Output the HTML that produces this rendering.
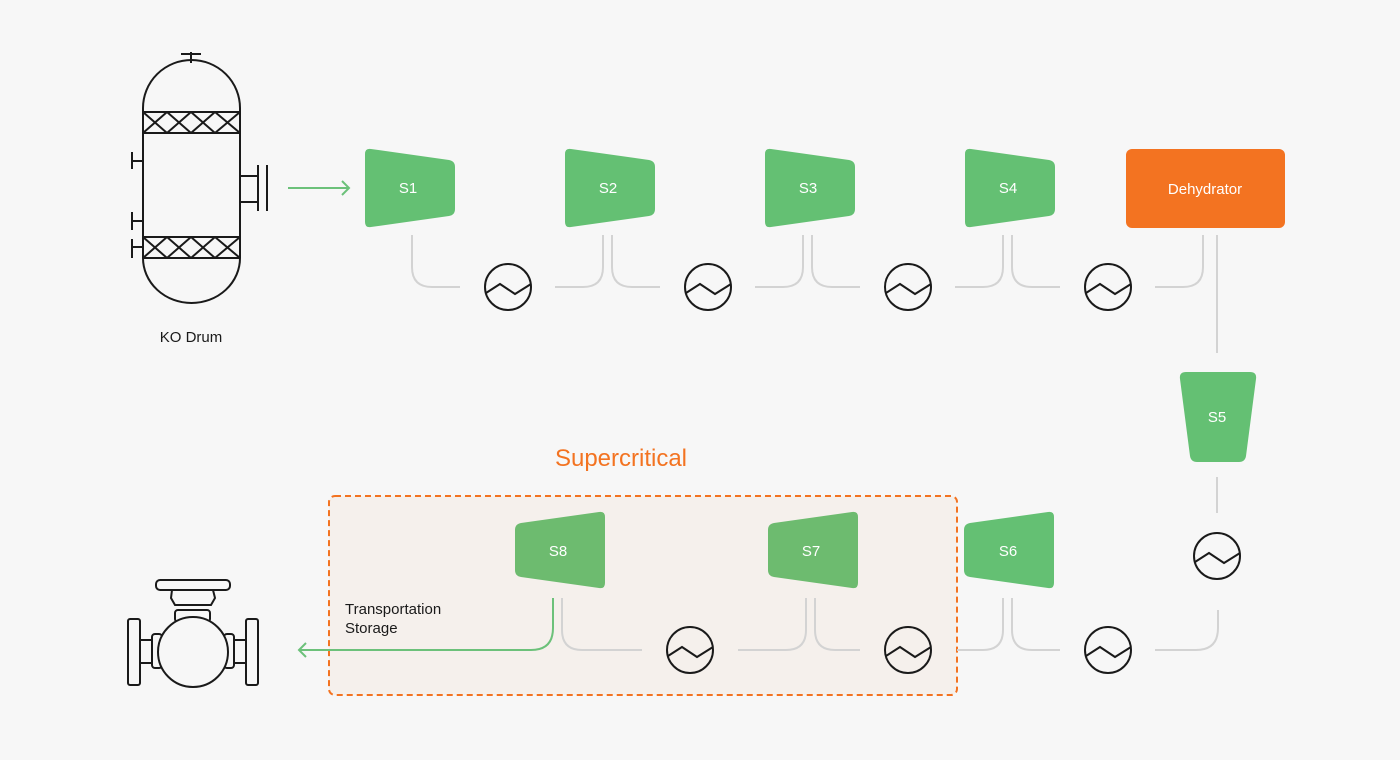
<!DOCTYPE html>
<html><head><meta charset="utf-8"><style>
html,body{margin:0;padding:0;background:#f7f7f7;}
svg{display:block;font-family:"Liberation Sans",sans-serif;}
</style></head><body>
<svg width="1400" height="760" viewBox="0 0 1400 760" xmlns="http://www.w3.org/2000/svg">
<defs>
<g id="hx"><circle cx="0" cy="0" r="23" fill="none" stroke="#1a1a1a" stroke-width="2"/><polyline points="-22,6 -8,-3 7,7 23,-3" fill="none" stroke="#1a1a1a" stroke-width="2"/></g>
<path id="compR" d="M371,149 L449,160 Q455,161 455,167 L455,209 Q455,215 449,216 L371,227 Q365,228 365,222 L365,154 Q365,148 371,149 Z"/>
<path id="compL" d="M964,530 Q964,524 970,523 L1048,512 Q1054,511 1054,517 L1054,583 Q1054,589 1048,588 L970,577 Q964,576 964,570 Z"/>
</defs>
<rect width="1400" height="760" fill="#f7f7f7"/>

<rect x="329" y="496" width="628" height="199" rx="6" fill="#f5f0ec" stroke="#f37321" stroke-width="2" stroke-dasharray="6,4"/>
<text x="621" y="466" font-size="24" fill="#f37321" text-anchor="middle">Supercritical</text>

<g fill="none" stroke="#1a1a1a" stroke-width="2">
<line x1="191" y1="52" x2="191" y2="63"/><line x1="181" y1="54" x2="201" y2="54"/>
<path d="M143,112 L143,108 A48.5,48 0 0 1 240,108 L240,112"/>
<line x1="143" y1="108" x2="143" y2="258"/><line x1="240" y1="108" x2="240" y2="258"/>
<path d="M143,258 A48.5,45 0 0 0 240,258"/>
<line x1="143" y1="112" x2="240" y2="112"/><line x1="143" y1="133" x2="240" y2="133"/>
<line x1="143" y1="237" x2="240" y2="237"/><line x1="143" y1="258" x2="240" y2="258"/>
<path d="M143,112 L167,133 M167,112 L191,133 M191,112 L215,133 M215,112 L240,133 M143,133 L167,112 M167,133 L191,112 M191,133 L215,112 M215,133 L240,112"/>
<path d="M143,237 L167,258 M167,237 L191,258 M191,237 L215,258 M215,237 L240,258 M143,258 L167,237 M167,258 L191,237 M191,258 L215,237 M215,258 L240,237"/>
<line x1="132" y1="161" x2="143" y2="161"/><line x1="132" y1="152" x2="132" y2="169"/>
<line x1="132" y1="221" x2="143" y2="221"/><line x1="132" y1="212" x2="132" y2="230"/>
<line x1="132" y1="247" x2="143" y2="247"/><line x1="132" y1="239" x2="132" y2="258"/>
<line x1="240" y1="176" x2="258" y2="176"/><line x1="240" y1="202" x2="258" y2="202"/>
<line x1="258" y1="165" x2="258" y2="211"/><line x1="267" y1="165" x2="267" y2="211"/>
</g>
<text x="191" y="342" font-size="15" fill="#1a1a1a" text-anchor="middle">KO Drum</text>
<g stroke="#6cc17a" stroke-width="2" fill="none"><line x1="288" y1="188" x2="349" y2="188"/><polyline points="342,181 349,188 342,195"/></g>

<g fill="#64c073">
<use href="#compR"/><use href="#compR" x="200"/><use href="#compR" x="400"/><use href="#compR" x="600"/>
</g>
<g fill="#fff" font-size="15" text-anchor="middle">
<text x="408" y="193">S1</text><text x="608" y="193">S2</text><text x="808" y="193">S3</text><text x="1008" y="193">S4</text>
</g>
<rect x="1126" y="149" width="159" height="79" rx="6" fill="#f37321"/>
<text x="1205" y="194" font-size="15" fill="#fff" text-anchor="middle">Dehydrator</text>

<g fill="none" stroke="#d3d3d3" stroke-width="2">
<path d="M412,235 L412,267 Q412,287 432,287 L460,287"/>
<path d="M555,287 L583,287 Q603,287 603,267 L603,235"/>
<path d="M612,235 L612,267 Q612,287 632,287 L660,287"/>
<path d="M755,287 L783,287 Q803,287 803,267 L803,235"/>
<path d="M812,235 L812,267 Q812,287 832,287 L860,287"/>
<path d="M955,287 L983,287 Q1003,287 1003,267 L1003,235"/>
<path d="M1012,235 L1012,267 Q1012,287 1032,287 L1060,287"/>
<path d="M1155,287 L1183,287 Q1203,287 1203,267 L1203,235"/>
<line x1="1217" y1="235" x2="1217" y2="353"/>
<line x1="1217" y1="477" x2="1217" y2="513"/>
<path d="M1218,610 L1218,628 Q1218,650 1196,650 L1155,650"/>
<path d="M1060,650 L1032,650 Q1012,650 1012,630 L1012,598"/>
<path d="M1003,598 L1003,630 Q1003,650 983,650 L957,650"/>
<path d="M860,650 L835,650 Q815,650 815,630 L815,598"/>
<path d="M806,598 L806,630 Q806,650 786,650 L738,650"/>
<path d="M642,650 L582,650 Q562,650 562,630 L562,598"/>
</g>
<use href="#hx" x="508" y="287"/><use href="#hx" x="708" y="287"/><use href="#hx" x="908" y="287"/><use href="#hx" x="1108" y="287"/>
<use href="#hx" x="1217" y="556"/><use href="#hx" x="1108" y="650"/><use href="#hx" x="908" y="650"/><use href="#hx" x="690" y="650"/>

<path d="M1186,372 L1250,372 Q1257,372 1256,379 L1246,456 Q1245,462 1239,462 L1197,462 Q1191,462 1190,456 L1180,379 Q1179,372 1186,372 Z" fill="#64c073"/>
<text x="1217" y="422" font-size="15" fill="#fff" text-anchor="middle">S5</text>

<use href="#compL" fill="#64c073"/>
<use href="#compL" x="-196" fill="#6dbb6f"/>
<use href="#compL" x="-449" fill="#6dbb6f"/>
<g fill="#fff" font-size="15" text-anchor="middle">
<text x="1008" y="556">S6</text><text x="811" y="556">S7</text><text x="558" y="556">S8</text>
</g>

<g stroke="#6cc17a" stroke-width="2" fill="none">
<path d="M553,598 L553,628 Q553,650 531,650 L299,650"/><polyline points="306,643 299,650 306,657"/>
</g>
<text x="345" y="614" font-size="15" fill="#1a1a1a">Transportation</text>
<text x="345" y="633" font-size="15" fill="#1a1a1a">Storage</text>

<g fill="none" stroke="#1a1a1a" stroke-width="2">
<rect x="156" y="580" width="74" height="10" rx="4"/>
<path d="M172,590 L213,590 L215,598 L211,605 L175,605 L171,598 Z"/>
<rect x="175" y="610" width="35" height="12" rx="3"/>
<rect x="128" y="619" width="12" height="66" rx="2"/>
<rect x="246" y="619" width="12" height="66" rx="2"/>
<rect x="140" y="640" width="12" height="23"/>
<rect x="234" y="640" width="12" height="23"/>
<rect x="152" y="634" width="10" height="34" rx="3"/>
<rect x="224" y="634" width="10" height="34" rx="3"/>
<circle cx="193" cy="652" r="35" fill="#f7f7f7"/>
</g>
</svg>
</body></html>
